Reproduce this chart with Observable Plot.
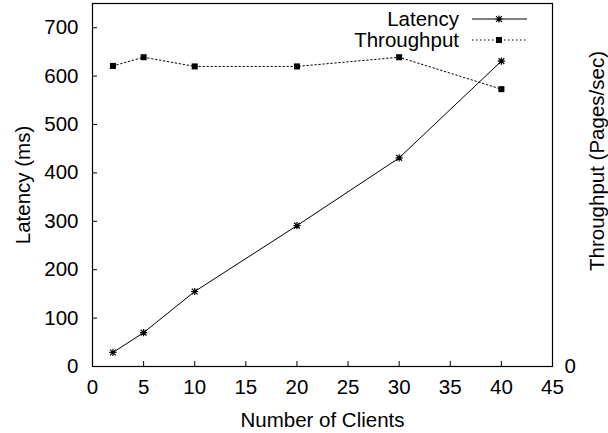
<!DOCTYPE html>
<html><head><meta charset="utf-8">
<script src="https://cdn.jsdelivr.net/npm/d3@7"></script>
<script src="https://cdn.jsdelivr.net/npm/@observablehq/plot@0.6"></script>
<style>
body{margin:0;background:#fff}
</style></head><body><div id="chart"></div>
<script>
const clients = [2, 5, 10, 20, 30, 40];
const latency = [29, 70, 155, 291, 431, 631];
const throughput = [621, 639, 620, 620, 639, 573];
const xTicks = [0, 5, 10, 15, 20, 25, 30, 35, 40, 45];
const yTicks = [0, 100, 200, 300, 400, 500, 600, 700];
const y2Ticks = [0];
const seriesNames = ["Latency", "Throughput"];
const xLabel = "Number of Clients";
const yLabel = "Latency (ms)";
const y2Label = "Throughput (Pages/sec)";

const latData = clients.map((c, i) => ({x: c, y: latency[i]}));
const thrData = clients.map((c, i) => ({x: c, y: throughput[i]}));

const W = 608, H = 433, mL = 92, mR = 56, mT = 3, mB = 67;
const pw = W - mL - mR, ph = H - mT - mB;

const star = {draw(ctx, size) {
  const r = Math.sqrt(size / Math.PI);
  ctx.moveTo(-r, 0); ctx.lineTo(r, 0);
  ctx.moveTo(0, -r); ctx.lineTo(0, r);
  const d = r * 0.8;
  ctx.moveTo(-d, -d); ctx.lineTo(d, d);
  ctx.moveTo(-d, d); ctx.lineTo(d, -d);
}};

const font = "'Liberation Sans', Arial, Helvetica, sans-serif";
const fs = 20.5;
const svg = Plot.plot({
  width: W, height: H,
  marginLeft: mL, marginRight: mR, marginTop: mT, marginBottom: mB,
  style: {fontFamily: font, fontSize: fs + "px", color: "#000", background: "#fff"},
  x: {domain: [0, 45]},
  y: {domain: [0, 750]},
  marks: [
    Plot.frame({stroke: "#000", strokeWidth: 1.2}),
    Plot.tickY(yTicks, {y: d => d, insetRight: pw - 5, stroke: "#000"}),
    Plot.tickX(xTicks.slice(1, -1), {x: d => d, insetTop: ph - 5, stroke: "#000"}),
    Plot.axisY({ticks: yTicks, tickSize: 0, tickPadding: 14, label: null, fill: "#000", fontSize: fs}),
    Plot.axisY({anchor: "right", ticks: y2Ticks, tickSize: 0, tickPadding: 12, label: null, fill: "#000", fontSize: fs}),
    Plot.axisX({ticks: xTicks, tickSize: 0, tickPadding: 13, label: null, fill: "#000", fontSize: fs}),
    Plot.text([xLabel], {frameAnchor: "bottom", text: d => d, dy: 54, textAnchor: "middle", lineAnchor: "middle", fill: "#000", fontSize: fs}),
    Plot.text([yLabel], {frameAnchor: "left", text: d => d, dx: -69, rotate: -90, textAnchor: "middle", lineAnchor: "middle", fill: "#000", fontSize: fs}),
    Plot.text([y2Label], {frameAnchor: "right", text: d => d, dx: 45, dy: -24, rotate: -90, textAnchor: "middle", lineAnchor: "middle", fill: "#000", fontSize: fs}),
    Plot.line(thrData, {x: "x", y: "y", stroke: "#000", strokeWidth: 1, strokeDasharray: "1.5,2.5"}),
    Plot.dot(thrData, {x: "x", y: "y", symbol: "square", r: 3.4, fill: "#000", stroke: "none"}),
    Plot.line(latData, {x: "x", y: "y", stroke: "#000", strokeWidth: 1}),
    Plot.dot(latData, {x: "x", y: "y", symbol: star, r: 3.6, stroke: "#000", strokeWidth: 1.2, fill: "none"})
  ]
});
document.getElementById("chart").appendChild(svg);

// legend
const lg = d3.select(svg).append("g").attr("font-family", font).attr("font-size", fs + "px");
const rows = [
  {name: seriesNames[0], y: 19, dash: null, sym: star, fill: "none", stroke: "#000", r: 3.6},
  {name: seriesNames[1], y: 40, dash: "1.5,2.5", sym: d3.symbolSquare, fill: "#000", stroke: "none", r: 3.4}
];
rows.forEach(row => {
  lg.append("text").attr("x", 459).attr("y", row.y).attr("dy", "0.35em")
    .attr("text-anchor", "end").attr("fill", "#000").text(row.name);
  lg.append("line").attr("x1", 472).attr("x2", 527).attr("y1", row.y).attr("y2", row.y)
    .attr("stroke", "#000").attr("stroke-dasharray", row.dash);
  lg.append("path").attr("transform", `translate(499,${row.y})`)
    .attr("d", d3.symbol(row.sym, Math.PI * row.r * row.r)())
    .attr("fill", row.fill).attr("stroke", row.stroke).attr("stroke-width", 1.2);
});
</script></body></html>
